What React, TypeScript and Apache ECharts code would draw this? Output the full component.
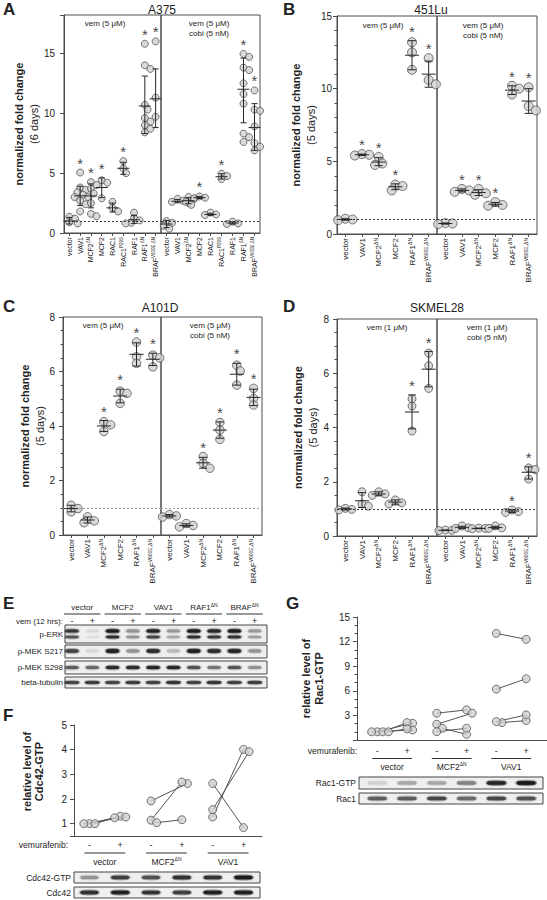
import React, { useEffect, useRef } from 'react';
import * as echarts from 'echarts';

const FONT = '"Liberation Sans", Arial, Helvetica, sans-serif';
const INK = '#222222';
const AXIS = '#4d4d4d';
const DOT_FILL = '#d0d0d0';
const DOT_EDGE = '#454545';

// ---------- A: A375 (6 days) ----------
const catsA = ['vector', 'VAV1', 'MCF2^ΔN', 'MCF2', 'RAC1', 'RAC1^P29S', 'RAF1', 'RAF1^ΔN', 'BRAF^V600E,ΔN'];
const aVemPts = [
  [1.35, 1.2, 1.0, 0.9, 0.8],
  [5.05, 3.8, 3.6, 3.4, 3.2, 3.0, 2.7, 2.4, 1.8],
  [4.25, 4.0, 3.7, 3.3, 3.0, 2.5, 1.6, 1.4],
  [4.4, 4.2, 2.9],
  [2.6, 2.1, 1.8],
  [6.0, 5.4, 5.0],
  [1.7, 1.25, 1.05, 0.85, 0.8],
  [15.8, 14.0, 13.7, 10.7, 10.3, 9.6, 9.3, 9.0, 8.7, 8.4],
  [16.0, 11.3, 11.1, 9.7, 9.5],
];
const aVemMean = [1.0, 3.1, 3.1, 3.8, 2.1, 5.4, 1.1, 10.6, 11.2];
const aVemLow = [0.75, 2.3, 2.1, 2.95, 1.75, 4.9, 0.8, 8.3, 8.8];
const aVemHigh = [1.3, 3.9, 4.1, 4.6, 2.5, 5.9, 1.45, 13.1, 13.7];
const aVemStar = [0, 1, 1, 1, 0, 1, 0, 1, 1];
const aCobiPts = [
  [1.0, 0.85, 0.6, 0.35],
  [2.85, 2.7, 2.6, 2.5],
  [3.0, 2.85, 2.6, 2.35],
  [3.05, 2.95, 2.9],
  [1.7, 1.55, 1.5],
  [4.95, 4.75, 4.5],
  [0.95, 0.8, 0.75],
  [14.95, 14.7, 13.8, 13.6, 12.5, 11.6, 10.8, 8.3, 8.0, 7.6],
  [11.9, 10.3, 10.2, 8.9, 7.5, 7.2, 6.9],
];
const aCobiMean = [0.75, 2.65, 2.7, 2.95, 1.55, 4.7, 0.83, 12.0, 8.8];
const aCobiLow = [0.45, 2.52, 2.45, 2.88, 1.47, 4.5, 0.75, 9.2, 6.9];
const aCobiHigh = [1.05, 2.8, 2.95, 3.05, 1.65, 4.95, 0.93, 14.6, 10.8];
const aCobiStar = [0, 0, 0, 1, 0, 1, 0, 1, 1];

// ---------- B: 451Lu (5 days) ----------
const catsShort = ['vector', 'VAV1', 'MCF2^ΔN', 'MCF2', 'RAF1^ΔN', 'BRAF^V600E,ΔN'];
const bVemPts = [[1.05, 1.0, 0.95], [5.5, 5.45, 5.4], [5.3, 4.85, 4.75], [3.4, 3.3, 3.0], [13.2, 12.5, 11.3], [12.1, 10.6, 10.3]];
const bVemMean = [1.0, 5.45, 4.95, 3.25, 12.3, 11.0];
const bVemLow = [0.95, 5.4, 4.7, 3.05, 11.3, 10.1];
const bVemHigh = [1.05, 5.5, 5.25, 3.45, 13.3, 11.9];
const bVemStar = [0, 1, 1, 1, 1, 1];
const bCobiPts = [[0.75, 0.72, 0.68], [3.1, 3.0, 2.9], [3.1, 2.8, 2.7], [2.2, 2.0, 1.95], [10.2, 10.0, 9.6], [10.1, 8.8, 8.5]];
const bCobiMean = [0.72, 3.0, 2.85, 2.05, 9.9, 9.15];
const bCobiLow = [0.68, 2.9, 2.65, 1.93, 9.6, 8.3];
const bCobiHigh = [0.76, 3.1, 3.05, 2.17, 10.2, 10.0];
const bCobiStar = [0, 1, 1, 1, 1, 1];

// ---------- C: A101D (5 days) ----------
const cVemPts = [[1.09, 0.97, 0.85], [0.67, 0.52, 0.45], [4.16, 4.04, 3.8], [5.28, 5.2, 4.83], [7.08, 6.54, 6.3], [6.6, 6.5, 6.17]];
const cVemMean = [0.97, 0.55, 4.0, 5.1, 6.63, 6.45];
const cVemLow = [0.85, 0.44, 3.8, 4.85, 6.2, 6.22];
const cVemHigh = [1.09, 0.66, 4.2, 5.35, 7.05, 6.67];
const cVemStar = [0, 0, 1, 1, 1, 1];
const cCobiPts = [[0.75, 0.7, 0.66], [0.42, 0.35, 0.3], [2.88, 2.63, 2.45], [4.13, 3.85, 3.51], [6.23, 6.02, 5.5], [5.38, 5.01, 4.77]];
const cCobiMean = [0.7, 0.35, 2.65, 3.85, 5.9, 5.05];
const cCobiLow = [0.66, 0.3, 2.45, 3.55, 5.5, 4.75];
const cCobiHigh = [0.75, 0.41, 2.85, 4.15, 6.3, 5.35];
const cCobiStar = [0, 0, 1, 1, 1, 1];

// ---------- D: SKMEL28 (5 days) ----------
const dVemPts = [[1.02, 0.98, 0.96], [1.63, 1.18, 1.1], [1.63, 1.55, 1.5], [1.33, 1.22, 1.18], [5.05, 4.79, 3.87], [6.74, 6.28, 5.44]];
const dVemMean = [1.0, 1.3, 1.55, 1.25, 4.57, 6.15];
const dVemLow = [0.96, 1.05, 1.48, 1.15, 3.95, 5.5];
const dVemHigh = [1.03, 1.6, 1.63, 1.33, 5.2, 6.8];
const dVemStar = [0, 0, 0, 0, 1, 1];
const dCobiPts = [[0.22, 0.21, 0.2], [0.37, 0.3, 0.28], [0.29, 0.28, 0.27], [0.37, 0.3, 0.28], [0.96, 0.9, 0.87], [2.51, 2.45, 2.1]];
const dCobiMean = [0.21, 0.32, 0.28, 0.31, 0.92, 2.35];
const dCobiLow = [0.2, 0.28, 0.27, 0.27, 0.87, 2.1];
const dCobiHigh = [0.22, 0.36, 0.29, 0.36, 0.97, 2.55];
const dCobiStar = [0, 0, 0, 0, 1, 1];

// ---------- E: western blot (band intensity 0..1) ----------
const eGroups = ['vector', 'MCF2', 'VAV1', 'RAF1^ΔN', 'BRAF^ΔN'];
const eVem = ['-', '+', '-', '+', '-', '+', '-', '+', '-', '+'];
const eRows = ['p-ERK', 'p-MEK S217', 'p-MEK S298', 'beta-tubulin'];
const pErkUpper = [0.75, 0.07, 1.0, 0.35, 0.95, 0.3, 1.0, 0.9, 1.0, 0.3];
const pErkLower = [0.6, 0.06, 0.8, 0.35, 0.7, 0.25, 0.8, 0.75, 0.8, 0.28];
const pMekS217 = [0.7, 0.08, 0.95, 0.3, 0.85, 0.18, 0.95, 0.85, 0.9, 0.3];
const pMekS298 = [0.55, 0.5, 0.85, 0.85, 0.9, 0.9, 0.6, 0.45, 0.6, 0.35];
const betaTubulin = [0.75, 0.8, 0.75, 0.8, 0.75, 0.85, 0.75, 0.85, 0.75, 0.8];

// ---------- F: Cdc42-GTP ----------
const pairGroups = ['vector', 'MCF2^ΔN', 'VAV1'];
const vemLanes = ['-', '+', '-', '+', '-', '+'];
const cdcMinus = [[1.0, 1.0, 1.0], [1.92, 1.14, 1.04], [2.63, 1.27, 1.57]];
const cdcPlus = [[1.3, 1.24, 1.27], [2.63, 2.69, 1.16], [0.84, 4.01, 3.92]];
const cdc42GtpBand = [0.3, 0.7, 0.6, 0.8, 0.75, 1.0];
const cdc42Band = [0.8, 0.95, 0.75, 0.7, 0.95, 0.95];

// ---------- G: Rac1-GTP ----------
const racMinus = [[1.0, 1.0, 1.0, 1.0], [3.27, 1.92, 1.43, 1.02], [13.0, 6.2, 2.12, 2.24]];
const racPlus = [[2.04, 2.12, 1.22, 1.35], [3.67, 3.27, 0.69, 1.43], [12.28, 7.47, 2.37, 3.06]];
const rac1GtpBand = [0.1, 0.25, 0.25, 0.4, 0.9, 1.0];
const rac1Band = [0.55, 0.55, 0.65, 0.5, 0.65, 0.6];

// ================= layout / styling =================
const PANELS = [
  {
    title: 'A375', days: '(6 days)', cats: catsA, left: 64, mid: 161, right: 260, top: 15, bottom: 233,
    ymax: 18.2, interval: 5, minor: 0, dot: 7, catFont: 7, supFont: 4.5, labelMargin: 9, nameGap: 14,
    dash: '#333', meanHalf: 6, capHalf: 3,
    halves: [
      { pts: aVemPts, mean: aVemMean, lo: aVemLow, hi: aVemHigh, star: aVemStar },
      { pts: aCobiPts, mean: aCobiMean, lo: aCobiLow, hi: aCobiHigh, star: aCobiStar },
    ],
  },
  {
    title: '451Lu', days: '(5 days)', cats: catsShort, left: 337, mid: 437, right: 537, top: 16, bottom: 234,
    ymax: 15, interval: 5, minor: 5, dot: 9, catFont: 8, supFont: 5, labelMargin: 5, nameGap: 13,
    dash: '#333', meanHalf: 7, capHalf: 4,
    halves: [
      { pts: bVemPts, mean: bVemMean, lo: bVemLow, hi: bVemHigh, star: bVemStar },
      { pts: bCobiPts, mean: bCobiMean, lo: bCobiLow, hi: bCobiHigh, star: bCobiStar },
    ],
  },
  {
    title: 'A101D', days: '(5 days)', cats: catsShort, left: 63, mid: 161, right: 262, top: 317, bottom: 535,
    ymax: 8, interval: 2, minor: 4, dot: 8.5, catFont: 8, supFont: 5, labelMargin: 8, nameGap: 13,
    dash: '#9a9a9a', meanHalf: 7, capHalf: 4,
    halves: [
      { pts: cVemPts, mean: cVemMean, lo: cVemLow, hi: cVemHigh, star: cVemStar },
      { pts: cCobiPts, mean: cCobiMean, lo: cCobiLow, hi: cCobiHigh, star: cCobiStar },
    ],
  },
  {
    title: 'SKMEL28', days: '(5 days)', cats: catsShort, left: 337, mid: 437, right: 537, top: 319, bottom: 536,
    ymax: 8, interval: 2, minor: 4, dot: 8, catFont: 8, supFont: 5, labelMargin: 8, nameGap: 17,
    dash: '#333', meanHalf: 7, capHalf: 4,
    halves: [
      { pts: dVemPts, mean: dVemMean, lo: dVemLow, hi: dVemHigh, star: dVemStar },
      { pts: dCobiPts, mean: dCobiMean, lo: dCobiLow, hi: dCobiHigh, star: dCobiStar },
    ],
  },
];

const toRich = (s: string) => {
  const [b, sup] = s.split('^');
  return sup ? `{n|${b}}{s|${sup}}` : `{n|${b}}`;
};

// simple beeswarm: returns pixel offsets for each value
function swarm(values: number[], pxPerUnit: number, diam: number, sep: number, stepFrac: number): number[] {
  const order = values.map((_, i) => i).sort((a, b) => values[b] - values[a]);
  const placed: { x: number; y: number }[] = [];
  const out = new Array(values.length).fill(0);
  const step = diam * stepFrac;
  for (const i of order) {
    const y = values[i] * pxPerUnit;
    let chosen = 0;
    for (let k = 0; k < 30; k++) {
      const m = Math.ceil(k / 2);
      const off = k === 0 ? 0 : (k % 2 === 1 ? m : -m) * step;
      const ok = placed.every((p) => Math.hypot(p.x - off, p.y - y) >= diam * sep);
      if (ok) { chosen = off; break; }
    }
    placed.push({ x: chosen, y });
    out[i] = chosen;
  }
  return out;
}

const dotStyle = { color: DOT_FILL, borderColor: DOT_EDGE, borderWidth: 0.9 };

function errSeries(xIdx: number, yIdx: number, rows: number[][], meanHalf: number, capHalf: number) {
  return {
    type: 'custom', xAxisIndex: xIdx, yAxisIndex: yIdx, z: 5, silent: true,
    data: rows, encode: { x: 0, y: [1, 2, 3] },
    renderItem: (_p: any, api: any) => {
      const x = api.value(0), m = api.value(1), lo = api.value(2), hi = api.value(3);
      const pm = api.coord([x, m]);
      const pl = api.coord([x, lo]);
      const ph = api.coord([x, hi]);
      const st = { stroke: '#262626', lineWidth: 1 };
      return {
        type: 'group',
        children: [
          { type: 'line', shape: { x1: pm[0] - meanHalf, y1: pm[1], x2: pm[0] + meanHalf, y2: pm[1] }, style: st },
          { type: 'line', shape: { x1: pl[0], y1: pl[1], x2: ph[0], y2: ph[1] }, style: st },
          { type: 'line', shape: { x1: pl[0] - capHalf, y1: pl[1], x2: pl[0] + capHalf, y2: pl[1] }, style: st },
          { type: 'line', shape: { x1: ph[0] - capHalf, y1: ph[1], x2: ph[0] + capHalf, y2: ph[1] }, style: st },
        ],
      };
    },
  };
}

function yName(top: string, bottom: string, boldBoth: boolean, lh: number) {
  return {
    name: `{b|${top}}\n{${boldBoth ? 'b' : 'n'}|${bottom}}`,
    rich: {
      b: { fontFamily: FONT, fontSize: 11, fontWeight: 'bold', color: INK, lineHeight: lh },
      n: { fontFamily: FONT, fontSize: 11, color: INK, lineHeight: lh },
    },
  };
}

function buildOption() {
  const grid: any[] = [];
  const xAxis: any[] = [];
  const yAxis: any[] = [];
  const series: any[] = [];

  PANELS.forEach((P, pi) => {
    [0, 1].forEach((h) => {
      const g = pi * 2 + h;
      const x0 = h === 0 ? P.left : P.mid;
      const x1 = h === 0 ? P.mid : P.right;
      const n = P.cats.length;
      grid.push({
        left: x0, top: P.top, width: x1 - x0, height: P.bottom - P.top,
        show: true, borderColor: AXIS, borderWidth: 1, backgroundColor: 'transparent',
        containLabel: false, outerBoundsMode: 'none',
      });
      xAxis.push({
        type: 'category', gridIndex: g, data: P.cats, boundaryGap: true,
        axisLine: { show: true, onZero: false, lineStyle: { color: AXIS, width: 1 } },
        axisTick: { show: true, alignWithLabel: true, length: 3, lineStyle: { color: AXIS } },
        axisLabel: {
          interval: 0, rotate: 90, margin: 4, formatter: (v: string) => toRich(v),
          rich: {
            n: { fontFamily: FONT, fontSize: P.catFont, color: INK, lineHeight: P.catFont + 2 },
            s: { fontFamily: FONT, fontSize: P.supFont, color: INK, lineHeight: P.catFont + 2, verticalAlign: 'top' },
          },
        },
        splitLine: { show: false },
      });
      xAxis.push({ type: 'value', gridIndex: g, min: -0.5, max: n - 0.5, show: false });
      const nm = yName('normalized fold change', P.days, false, 15);
      yAxis.push({
        type: 'value', gridIndex: g, min: 0, max: P.ymax, interval: P.interval, show: h === 0,
        axisLine: { show: true, onZero: false, lineStyle: { color: AXIS, width: 1 } },
        axisTick: { show: true, length: 4, lineStyle: { color: AXIS } },
        minorTick: P.minor ? { show: true, splitNumber: P.minor, length: 2.5, lineStyle: { color: AXIS } } : { show: false },
        axisLabel: {
          fontFamily: FONT, fontSize: 10, color: INK, margin: P.labelMargin,
          formatter: (v: number) => (Math.abs(v / P.interval - Math.round(v / P.interval)) < 1e-6 ? String(v) : ''),
        },
        splitLine: { show: false }, minorSplitLine: { show: false },
        name: h === 0 ? nm.name : '', nameLocation: 'middle', nameRotate: 90, nameGap: P.nameGap,
        nameTextStyle: { rich: nm.rich, align: 'center' },
      });
      const half = P.halves[h];
      const cw = (x1 - x0) / n;
      const py = (P.bottom - P.top) / P.ymax;
      const pts: number[][] = [];
      half.pts.forEach((vals, i) => {
        const offs = swarm(vals, py, P.dot, 0.75, 0.4);
        vals.forEach((v, k) => pts.push([i + offs[k] / cw, v]));
      });
      series.push({
        type: 'scatter', xAxisIndex: 2 * g + 1, yAxisIndex: g, data: pts, symbol: 'circle', symbolSize: P.dot,
        itemStyle: dotStyle, z: 3, silent: true,
        markLine: {
          silent: true, symbol: 'none', label: { show: false },
          lineStyle: { color: P.dash, type: [2, 2], width: 1 },
          data: [{ yAxis: 1 }],
        },
      });
      series.push(errSeries(2 * g + 1, g, half.mean.map((m, i) => [i, m, half.lo[i], half.hi[i]]), P.meanHalf, P.capHalf));
      const stars: number[][] = [];
      half.star.forEach((s, i) => {
        if (s) stars.push([i, Math.max(...half.pts[i], half.hi[i])]);
      });
      series.push({
        type: 'scatter', xAxisIndex: 2 * g + 1, yAxisIndex: g, data: stars, symbol: 'circle', symbolSize: 0.01,
        itemStyle: { color: '#111111' }, z: 6, silent: true,
        label: {
          show: true, position: 'top', distance: 2, formatter: '*', fontFamily: FONT, fontSize: 15,
          color: '#111111', textBorderWidth: 0, textShadowBlur: 0,
        },
      });
    });
  });

  // ---- F and G: paired dot plots ----
  const paired = [
    {
      grid: { left: 74, top: 725, width: 188, height: 111 }, xmin: -0.5, xmax: 5.6,
      ymin: 0.5, ymax: 5, interval: 0, minor: 0, dot: 8, minus: cdcMinus, plus: cdcPlus,
      name: yName('relative level of', 'Cdc42-GTP', true, 12), nameGap: 29, namePad: [0, 0, 0, 18],
    },
    {
      grid: { left: 357, top: 617, width: 190, height: 123 }, xmin: -0.68, xmax: 5.7,
      ymin: 0, ymax: 15, interval: 3, minor: 3, dot: 8, minus: racMinus, plus: racPlus,
      name: yName('relative level of', 'Rac1-GTP', true, 12.5), nameGap: 32, namePad: [0, 0, 0, 0],
    },
  ];
  paired.forEach((Q, qi) => {
    const g = 8 + qi;
    const xi = 16 + qi;
    grid.push({ ...Q.grid, show: false, containLabel: false, outerBoundsMode: 'none' });
    xAxis.push({
      type: 'value', gridIndex: g, min: Q.xmin, max: Q.xmax,
      axisLine: { show: true, onZero: false, lineStyle: { color: AXIS, width: 1 } },
      axisTick: { show: false }, axisLabel: { show: false }, splitLine: { show: false },
    });
    yAxis.push({
      type: 'value', gridIndex: g, min: Q.ymin, max: Q.ymax,
      ...(Q.interval ? { interval: Q.interval } : { splitNumber: 5 }),
      axisLine: { show: true, onZero: false, lineStyle: { color: AXIS, width: 1 } },
      axisTick: { show: true, length: 4, lineStyle: { color: AXIS } },
      minorTick: Q.minor ? { show: true, splitNumber: Q.minor, length: 2.5, lineStyle: { color: AXIS } } : { show: false },
      axisLabel: {
        fontFamily: FONT, fontSize: 10, color: INK, margin: 7,
        formatter: (v: number) => (v > 0 && Number.isInteger(v) ? String(v) : ''),
      },
      splitLine: { show: false }, minorSplitLine: { show: false },
      name: Q.name.name, nameLocation: 'middle', nameRotate: 90, nameGap: Q.nameGap,
      nameTextStyle: { rich: Q.name.rich, align: 'center', padding: Q.namePad },
    });
    const lanePx = Q.grid.width / (Q.xmax - Q.xmin);
    const py = Q.grid.height / (Q.ymax - Q.ymin);
    const pts: number[][] = [];
    const segs: any[] = [];
    Q.minus.forEach((mv, gi) => {
      const pv = Q.plus[gi];
      const om = swarm(mv, py, Q.dot, 0.7, 0.35);
      const op = swarm(pv, py, Q.dot, 0.7, 0.35);
      mv.forEach((v, k) => {
        const a = [2 * gi + om[k] / lanePx, v];
        const b = [2 * gi + 1 + op[k] / lanePx, pv[k]];
        pts.push(a, b);
        segs.push({ coords: [a, b] });
      });
    });
    series.push({
      type: 'lines', coordinateSystem: 'cartesian2d', xAxisIndex: xi, yAxisIndex: g, data: segs, z: 2, silent: true,
      lineStyle: { color: '#555', width: 1, opacity: 1, curveness: 0 }, effect: { show: false },
    });
    series.push({
      type: 'scatter', xAxisIndex: xi, yAxisIndex: g, data: pts, symbol: 'circle', symbolSize: Q.dot,
      itemStyle: dotStyle, z: 3, silent: true,
    });
  });

  return { animation: false, backgroundColor: '#fff', textStyle: { fontFamily: FONT }, grid, xAxis, yAxis, series };
}

function buildGraphics(chart: any) {
  const g: any[] = [];
  const text = (x: number, y: number, s: string, o: any = {}) => {
    const size = o.size || 8;
    const sup = o.sup || Math.round(size * 0.65);
    g.push({
      type: 'text', x, y, silent: true, z: 10,
      style: {
        text: toRich(s), align: o.align || 'center', verticalAlign: o.valign || 'middle',
        rich: {
          n: { fontFamily: FONT, fontSize: size, fontWeight: o.bold ? 'bold' : 'normal', fill: o.fill || INK, lineHeight: size + 2 },
          s: { fontFamily: FONT, fontSize: sup, fill: o.fill || INK, lineHeight: size + 2, verticalAlign: 'top' },
        },
      },
    });
  };
  const line = (x1: number, y1: number, x2: number, y2: number, color = '#333') =>
    g.push({ type: 'line', silent: true, z: 10, shape: { x1, y1, x2, y2 }, style: { stroke: color, lineWidth: 1 } });
  const box = (x0: number, y0: number, x1: number, y1: number) =>
    g.push({ type: 'rect', silent: true, z: 8, shape: { x: x0, y: y0, width: x1 - x0, height: y1 - y0 }, style: { fill: '#efefef', stroke: '#444', lineWidth: 1 } });
  const band = (cx: number, cy: number, w: number, h: number, a: number) => {
    // soft halo + core to imitate a blurred band
    g.push({
      type: 'ellipse', silent: true, z: 9,
      shape: { cx, cy, rx: w / 2 + 1.5, ry: h / 2 + 1.2 },
      style: { fill: `rgba(30,30,30,${a * 0.35})` },
    });
    g.push({
      type: 'rect', silent: true, z: 9,
      shape: { x: cx - w / 2, y: cy - h / 2, width: w, height: h, r: h / 2 },
      style: { fill: `rgba(20,20,20,${a * 0.9})`, shadowBlur: 2.5, shadowColor: `rgba(20,20,20,${a * 0.85})` },
    });
  };

  // panel letters
  text(3, 0, 'A', { size: 17, bold: true, align: 'left', valign: 'top' });
  text(283, 0, 'B', { size: 17, bold: true, align: 'left', valign: 'top' });
  text(3, 297, 'C', { size: 17, bold: true, align: 'left', valign: 'top' });
  text(283, 297, 'D', { size: 17, bold: true, align: 'left', valign: 'top' });
  text(3, 594, 'E', { size: 17, bold: true, align: 'left', valign: 'top' });
  text(3, 706, 'F', { size: 17, bold: true, align: 'left', valign: 'top' });
  text(286, 594, 'G', { size: 17, bold: true, align: 'left', valign: 'top' });

  // titles and treatment notes
  const titlePos = [[162, 10], [431, 10], [160, 308], [437, 308]];
  const notes = [
    { l: [105, 23], r: [209, 23], lbl: 'vem (5 μM)', cobi: 'cobi (5 nM)' },
    { l: [383, 25], r: [483, 25], lbl: 'vem (5 μM)', cobi: 'cobi (5 nM)' },
    { l: [103, 325], r: [210, 325], lbl: 'vem (5 μM)', cobi: 'cobi (5 nM)' },
    { l: [387, 327], r: [487, 327], lbl: 'vem (1 μM)', cobi: 'cobi (5 nM)' },
  ];
  PANELS.forEach((P, i) => {
    text(titlePos[i][0], titlePos[i][1], P.title, { size: 12 });
    const N = notes[i];
    text(N.l[0], N.l[1], N.lbl, { size: 8 });
    text(N.r[0], N.r[1], N.lbl, { size: 8 });
    text(N.r[0], N.r[1] + 10.5, N.cobi, { size: 8 });
  });

  // ---- E: western blot ----
  const eLane = (i: number) => 72 + 20.3 * i;
  eGroups.forEach((name, gi) => {
    const a = eLane(2 * gi), b = eLane(2 * gi + 1);
    text((a + b) / 2, 607, name, { size: 8, sup: 5 });
    line(a - 8, 614, b + 8, 614);
  });
  text(63, 621, 'vem (12 hrs):', { size: 8, align: 'right' });
  eVem.forEach((s, i) => text(eLane(i), 620.5, s, { size: 9 }));
  const eBoxes = [[625, 643], [645, 658], [661, 674], [677, 688]];
  eRows.forEach((r, ri) => {
    box(65, eBoxes[ri][0], 267, eBoxes[ri][1]);
    text(63, (eBoxes[ri][0] + eBoxes[ri][1]) / 2, r, { size: 8, align: 'right' });
  });
  for (let i = 0; i < 10; i++) {
    const x = eLane(i);
    band(x, 631, 13, 3, pErkUpper[i]);
    band(x, 637, 13, 2.5, pErkLower[i]);
    band(x, 651, 13, 3.5, pMekS217[i]);
    band(x, 667.5, 13, 3, pMekS298[i]);
    band(x, 682.5, 14, 2.5, betaTubulin[i]);
  }

  // ---- F and G annotations (lanes from the chart's x scales) ----
  const setups = [
    { xi: 16, labelX: 68, vy: 845, uy: 853, gy: 862, boxX: [74, 260], boxes: [[872, 883], [887, 898]], names: ['Cdc42-GTP', 'Cdc42'], bands: [cdc42GtpBand, cdc42Band], bw: 18 },
    { xi: 17, labelX: 357, vy: 750.5, uy: 758.5, gy: 767, boxX: [359, 543], boxes: [[777, 789], [793, 804]], names: ['Rac1-GTP', 'Rac1'], bands: [rac1GtpBand, rac1Band], bw: 19 },
  ];
  setups.forEach((S) => {
    const lx = vemLanes.map((_, i) => chart.convertToPixel({ xAxisIndex: S.xi }, i) as number);
    text(S.labelX, S.vy, 'vemurafenib:', { size: 8.5, align: 'right' });
    vemLanes.forEach((s, i) => text(lx[i], S.vy, s, { size: 9 }));
    pairGroups.forEach((name, gi) => {
      const a = lx[2 * gi], b = lx[2 * gi + 1];
      line(a - 5, S.uy, b + 5, S.uy);
      text((a + b) / 2, S.gy, name, { size: 8.5, sup: 5 });
    });
    S.boxes.forEach((bx, ri) => {
      box(S.boxX[0], bx[0], S.boxX[1], bx[1]);
      text(S.boxX[0] - 3, (bx[0] + bx[1]) / 2, S.names[ri], { size: 8.5, align: 'right' });
      S.bands[ri].forEach((a, i) => band(lx[i], (bx[0] + bx[1]) / 2, S.bw, 3.5, a));
    });
  });
  return g;
}

export default function App() {
  const ref = useRef<HTMLDivElement>(null);
  useEffect(() => {
    if (!ref.current) return;
    const chart = echarts.init(ref.current, undefined, { renderer: 'svg' });
    chart.setOption(buildOption() as any);
    chart.setOption({ graphic: buildGraphics(chart) } as any);
    return () => chart.dispose();
  }, []);
  return (
    <div
      ref={ref}
      style={{ position: 'fixed', left: 0, top: 0, width: 547, height: 900, background: '#fff' }}
    />
  );
}
